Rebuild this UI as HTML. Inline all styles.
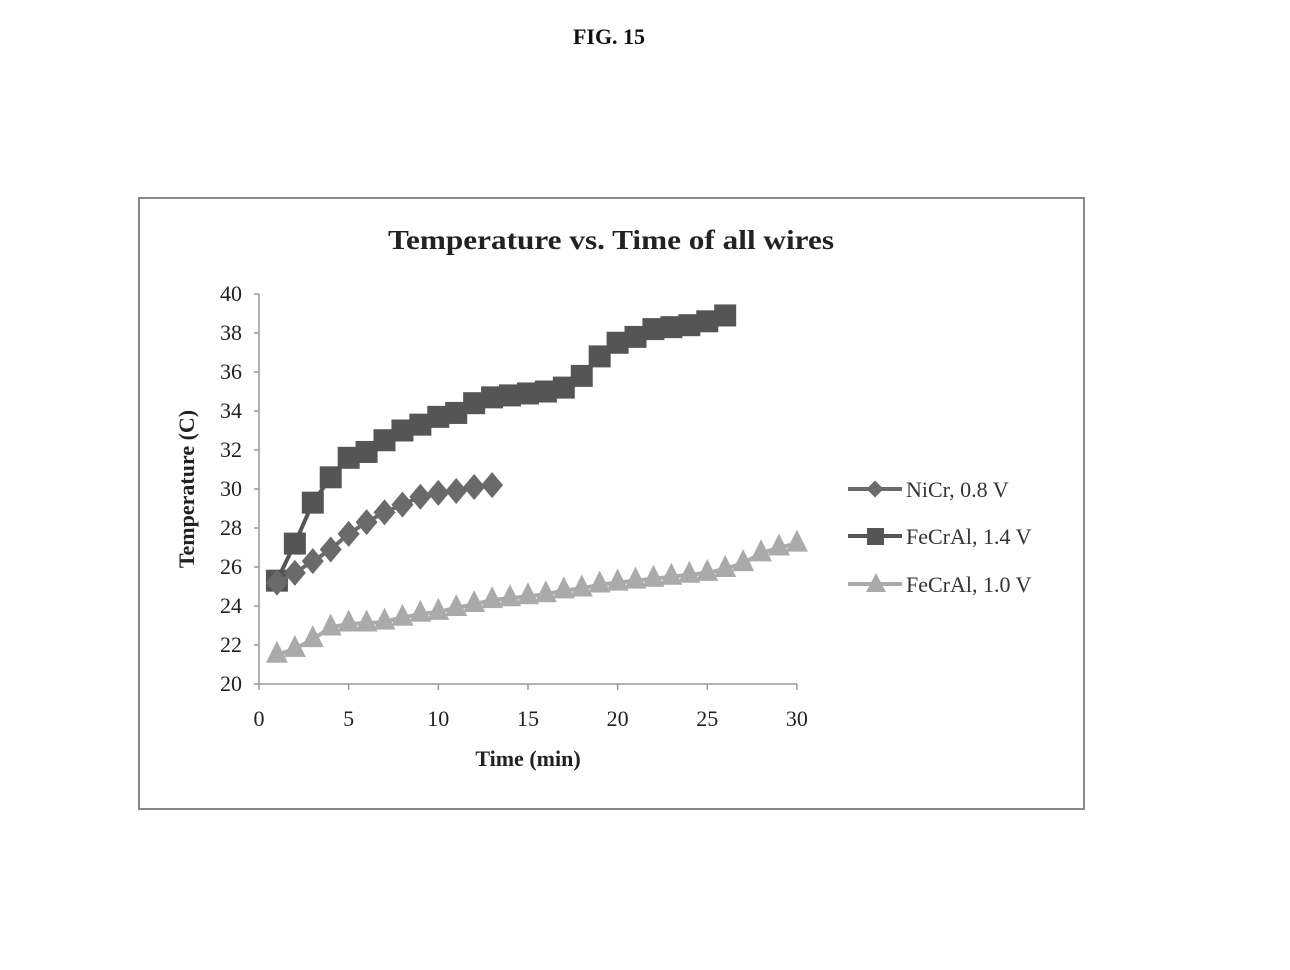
<!DOCTYPE html>
<html><head><meta charset="utf-8"><style>
html,body{margin:0;padding:0;background:#fff;}
svg{display:block;font-family:"Liberation Serif",serif;}
</style></head><body>
<svg id="s" width="1290" height="970" viewBox="0 0 1290 970" xmlns="http://www.w3.org/2000/svg">
<rect width="1290" height="970" fill="#fff"/>
<text x="609" y="44" text-anchor="middle" font-size="22" font-weight="bold" fill="#111">FIG. 15</text>
<rect x="139" y="198" width="945" height="611" fill="none" stroke="#888" stroke-width="2"/>
<text x="611" y="249" text-anchor="middle" font-size="27" font-weight="bold" fill="#222" textLength="446" lengthAdjust="spacingAndGlyphs">Temperature vs. Time of all wires</text>
<g id="axes" stroke="#999" stroke-width="1.5"></g>
<g id="labels" font-size="22" fill="#222"></g>
<text x="528" y="766" text-anchor="middle" font-size="22" font-weight="bold" fill="#222">Time (min)</text>
<text transform="translate(194,489) rotate(-90)" text-anchor="middle" font-size="22" font-weight="bold" fill="#222">Temperature (C)</text>
<g id="data"></g>
<g font-size="22" fill="#333">
<line x1="848" y1="489" x2="902" y2="489" stroke="#6a6a6a" stroke-width="4"/>
<rect x="869" y="483" width="12" height="12" fill="#6a6a6a" transform="rotate(45 875 489)"/>
<text x="906" y="497">NiCr, 0.8 V</text>
<line x1="848" y1="536" x2="902" y2="536" stroke="#555" stroke-width="4"/>
<rect x="867" y="528" width="17" height="17" fill="#555"/>
<text x="906" y="544">FeCrAl, 1.4 V</text>
<line x1="848" y1="584" x2="902" y2="584" stroke="#aaa" stroke-width="4"/>
<polygon points="876,573 886,592 866,592" fill="#aaa"/>
<text x="906" y="592">FeCrAl, 1.0 V</text>
</g>
</svg>
<script>
const NS="http://www.w3.org/2000/svg";
const X=t=>259+17.93*t, Y=v=>684-19.5*(v-20);
function el(p,n,a,txt){const e=document.createElementNS(NS,n);for(const k in a)e.setAttribute(k,a[k]);if(txt!==undefined)e.textContent=txt;document.getElementById(p).appendChild(e);return e;}
el("axes","line",{x1:259,y1:294,x2:259,y2:684});
el("axes","line",{x1:259,y1:684,x2:797,y2:684});
for(let v=20;v<=40;v+=2){el("axes","line",{x1:254,y1:Y(v),x2:259,y2:Y(v)});el("labels","text",{x:242,y:Y(v)+7,"text-anchor":"end"},v);}
for(let t=0;t<=30;t+=5){el("axes","line",{x1:X(t),y1:684,x2:X(t),y2:690});el("labels","text",{x:X(t),y:726,"text-anchor":"middle"},t);}
const sq=[25.3,27.2,29.3,30.6,31.6,31.9,32.5,33,33.3,33.7,33.9,34.4,34.7,34.8,34.9,35,35.2,35.8,36.8,37.5,37.8,38.2,38.3,38.4,38.6,38.9];
const di=[25.2,25.7,26.3,26.9,27.7,28.3,28.8,29.2,29.6,29.8,29.9,30.1,30.2];
const tr=[21.5,21.8,22.3,22.9,23.1,23.1,23.2,23.4,23.6,23.7,23.9,24.1,24.3,24.4,24.5,24.6,24.8,24.9,25.1,25.2,25.3,25.4,25.5,25.6,25.7,25.9,26.2,26.7,27.0,27.2];
function line(d,c){el("data","polyline",{points:d.map((v,i)=>X(i+1)+","+Y(v)).join(" "),fill:"none",stroke:c,"stroke-width":4});}
line(tr,"#aaa");
tr.forEach((v,i)=>{const x=X(i+1),y=Y(v);el("data","polygon",{points:`${x},${y-14} ${x+11},${y+8} ${x-11},${y+8}`,fill:"#aaa"});});
line(sq,"#555");
sq.forEach((v,i)=>{el("data","rect",{x:X(i+1)-11,y:Y(v)-11,width:22,height:22,fill:"#555"});});
line(di,"#6a6a6a");
di.forEach((v,i)=>{const x=X(i+1),y=Y(v);el("data","polygon",{points:`${x},${y-13} ${x+11},${y} ${x},${y+13} ${x-11},${y}`,fill:"#6a6a6a"});});
</script>
</body></html>
